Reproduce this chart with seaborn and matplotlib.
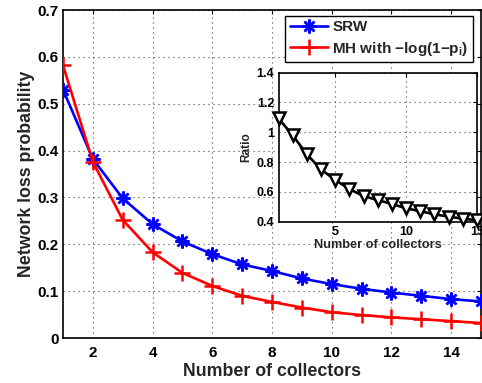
import matplotlib
matplotlib.use("Agg")
import matplotlib.pyplot as plt
import seaborn as sns
import pandas as pd

# ---- data ----
collectors = list(range(1, 16))
srw = [0.530, 0.382, 0.298, 0.243, 0.206, 0.179, 0.157, 0.143, 0.127, 0.115,
       0.105, 0.097, 0.090, 0.083, 0.078]
mh = [0.582, 0.376, 0.252, 0.183, 0.139, 0.111, 0.090, 0.077, 0.065, 0.055,
      0.049, 0.044, 0.040, 0.036, 0.032]
ratio = [1.093, 0.980, 0.852, 0.751, 0.680, 0.619, 0.572, 0.545, 0.519, 0.490,
         0.470, 0.450, 0.434, 0.420, 0.410]
main_xticks = [2, 4, 6, 8, 10, 12, 14]
main_yticks = [0, 0.1, 0.2, 0.3, 0.4, 0.5, 0.6, 0.7]
main_yticklabels = ["0", "0.1", "0.2", "0.3", "0.4", "0.5", "0.6", "0.7"]
inset_xticks = [5, 10, 15]
inset_yticks = [0.4, 0.6, 0.8, 1.0, 1.2, 1.4]
inset_yticklabels = ["0.4", "0.6", "0.8", "1", "1.2", "1.4"]
label_srw = "SRW"
label_mh = "MH with \u2212log(1\u2212p$_{i}$)"

sns.set_theme(style="white")
plt.rcParams["font.family"] = ["Liberation Sans", "DejaVu Sans"]
plt.rcParams["font.weight"] = "bold"
plt.rcParams["mathtext.fontset"] = "custom"
plt.rcParams["mathtext.rm"] = "Liberation Sans:bold"
plt.rcParams["mathtext.it"] = "Liberation Sans:bold"
plt.rcParams["mathtext.bf"] = "Liberation Sans:bold"

df = pd.DataFrame({"n": collectors, "srw": srw, "mh": mh, "ratio": ratio})

fig = plt.figure(figsize=(4.82, 3.83), dpi=100)
fig.patch.set_facecolor("white")
ax = fig.add_axes([63 / 482, 45 / 383, 418 / 482, 328 / 383])
ax.set_facecolor("white")

sns.lineplot(data=df, x="n", y="srw", ax=ax, color="blue", linewidth=1.9,
             marker=(8, 2, 0), markersize=10, markeredgecolor="blue",
             markeredgewidth=1.8, label=label_srw, zorder=3)
sns.lineplot(data=df, x="n", y="mh", ax=ax, color="red", linewidth=1.9,
             marker="+", markersize=11, markeredgecolor="red",
             markeredgewidth=1.8, label=label_mh, zorder=3)

ax.set_xlim(1, 15)
ax.set_ylim(0, 0.7)
ax.set_xticks(main_xticks)
ax.set_yticks(main_yticks)
ax.set_yticklabels(main_yticklabels)
ax.tick_params(direction="in", length=3, width=0.8, top=True, right=True,
               labelsize=11, pad=6, colors="black")
ax.tick_params(axis="y", pad=3)
for lab in ax.get_xticklabels() + ax.get_yticklabels():
    lab.set_fontweight("bold")
ax.grid(True, linestyle=(0, (1, 3.5)), color="#444444", linewidth=0.8)
for s in ax.spines.values():
    s.set_visible(True)
    s.set_color("black")
    s.set_linewidth(1.2)
ax.set_xlabel("Number of collectors", fontsize=12.8, fontweight="bold", labelpad=2)
ax.set_ylabel("Network loss probability", fontsize=12.8, fontweight="bold", labelpad=2)

leg = ax.legend(loc="upper right", bbox_to_anchor=(0.981, 0.982),
                borderaxespad=0, fancybox=False, framealpha=1,
                edgecolor="black", fontsize=11, handlelength=2.5,
                handletextpad=0.3, borderpad=0.3, labelspacing=0.35)
leg.get_frame().set_linewidth(1.0)
for t in leg.get_texts():
    t.set_fontweight("bold")

# ---- inset ----
ax2 = fig.add_axes([278.5 / 482, (383 - 221.7) / 383, 198.5 / 482, 149 / 383])
ax2.set_facecolor("white")
sns.lineplot(data=df, x="n", y="ratio", ax=ax2, color="black", linewidth=1.9,
             marker="v", markersize=9, markerfacecolor="white",
             markeredgecolor="black", markeredgewidth=1.8, zorder=3,
             clip_on=False)
ax2.set_xlim(1, 15)
ax2.set_ylim(0.4, 1.4)
ax2.set_xticks(inset_xticks)
ax2.set_yticks(inset_yticks)
ax2.set_yticklabels(inset_yticklabels)
ax2.tick_params(direction="in", length=3, width=0.8, top=True, right=True,
                labelsize=9, pad=3, colors="black")
for lab in ax2.get_xticklabels() + ax2.get_yticklabels():
    lab.set_fontweight("bold")
ax2.grid(True, linestyle=(0, (1, 3.5)), color="#444444", linewidth=0.8)
for s in ax2.spines.values():
    s.set_visible(True)
    s.set_color("black")
    s.set_linewidth(1.2)
ax2.set_xlabel("Number of collectors", fontsize=9.2, fontweight="bold", labelpad=1)
ax2.set_ylabel("Ratio", fontsize=8.6, fontweight="bold", labelpad=3)

fig.savefig("out.png", dpi=100)
